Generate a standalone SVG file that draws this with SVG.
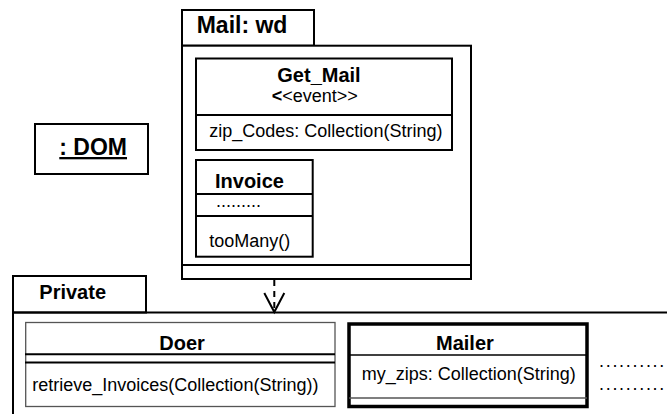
<svg xmlns="http://www.w3.org/2000/svg" width="667" height="414" viewBox="0 0 667 414">
<style>
text{font-family:"Liberation Sans",Arial,sans-serif;fill:#000}
.b{font-weight:bold;font-size:20px}
.big{font-weight:bold;font-size:23px}
.r{font-size:18px}
.f{fill:#fff;stroke:#000;stroke-width:2}
.ln{stroke:#000;stroke-width:2;fill:none}
</style>
<rect width="667" height="414" fill="#fff"/>
<g id="pkg-mail">
<rect class="f" x="182" y="10" width="132" height="35.7"/>
<text class="big" x="196.7" y="33.3">Mail: wd</text>
<rect class="f" x="182" y="45.7" width="289" height="233.3"/>
<line class="ln" x1="182" y1="265" x2="471" y2="265"/>
</g>
<g id="get-mail">
<rect class="f" x="196" y="58.5" width="256" height="91.5"/>
<text class="b" x="277.3" y="81.7">Get_Mail</text>
<text class="r" x="271.7" y="101.7"><tspan font-weight="bold">&lt;</tspan>&lt;event&gt;&gt;</text>
<line class="ln" x1="196" y1="115" x2="452" y2="115"/>
<text class="r" x="209.3" y="137.3">zip_Codes: Collection(String)</text>
</g>
<g id="invoice">
<rect class="f" x="196" y="160" width="116.7" height="96.7"/>
<text class="b" x="215" y="187.7">Invoice</text>
<line class="ln" x1="196" y1="194" x2="312.7" y2="194"/>
<text class="r" x="216" y="206.7">.........</text>
<line class="ln" x1="196" y1="216" x2="312.7" y2="216"/>
<text class="r" x="209.3" y="246.7">tooMany()</text>
</g>
<g id="dom">
<rect class="f" x="35" y="124" width="113" height="50"/>
<text class="big" x="59.3" y="155" text-decoration="underline">: DOM</text>
</g>
<g id="pkg-private">
<rect class="f" x="13" y="276" width="133" height="36.5"/>
<text class="b" x="39.3" y="299.3">Private</text>
<line class="ln" x1="13" y1="312.5" x2="667" y2="312.5"/>
<line class="ln" x1="13" y1="276" x2="13" y2="414"/>
</g>
<g id="doer">
<rect x="25.7" y="322.5" width="309.3" height="84" fill="#fff" stroke="#555" stroke-width="1.3"/>
<text class="b" x="159.3" y="350">Doer</text>
<line class="ln" x1="25" y1="354.3" x2="335" y2="354.3"/>
<line class="ln" x1="25" y1="362.5" x2="335" y2="362.5"/>
<text class="r" x="32.3" y="390.7">retrieve_Invoices(Collection(String))</text>
</g>
<g id="mailer">
<rect x="349" y="324" width="238" height="82.5" fill="#fff" stroke="#000" stroke-width="3.5"/>
<text class="b" x="436" y="350">Mailer</text>
<line x1="349" y1="355" x2="587" y2="355" stroke="#000" stroke-width="1.5"/>
<text class="r" x="361.7" y="380">my_zips: Collection(String)</text>
<line x1="349" y1="398" x2="587" y2="398" stroke="#555" stroke-width="1.3"/>
</g>
<g id="ellipsis">
<text class="r" x="599" y="367" letter-spacing="1.7">..........</text>
<text class="r" x="599" y="390" letter-spacing="1.7">..........</text>
</g>
<g id="connectors">
<line x1="274.3" y1="280" x2="274.3" y2="310" stroke="#000" stroke-width="2" stroke-dasharray="6,5"/>
<polyline class="ln" points="264.3,293 274.3,312 284.3,293"/>
</g>
</svg>
